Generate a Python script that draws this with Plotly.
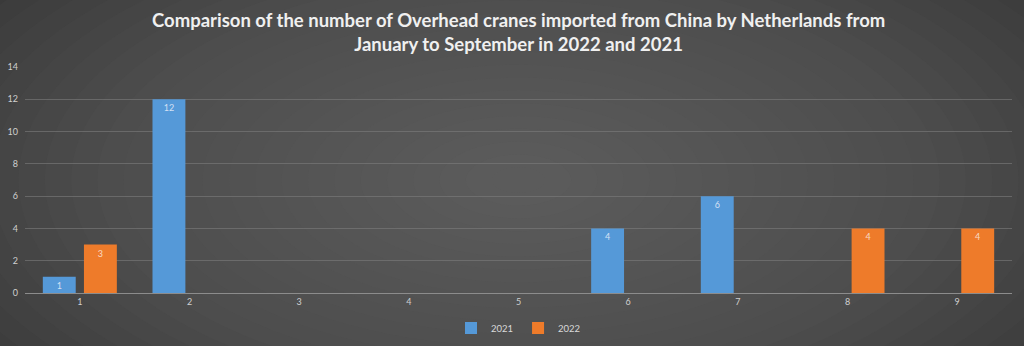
import plotly.graph_objects as go

months = ["1", "2", "3", "4", "5", "6", "7", "8", "9"]
imports_2021 = [1, 12, None, None, None, 4, 6, None, None]
imports_2022 = [3, None, None, None, None, None, None, 4, 4]
y_ticks = [0, 2, 4, 6, 8, 10, 12, 14]

title_text = ("Comparison of the number of Overhead cranes imported from China by Netherlands from"
              "<br>January to September in 2022 and 2021")

fig = go.Figure()
fig.add_trace(go.Bar(
    name="2021", x=months, y=imports_2021,
    marker=dict(color="#5599d8", line=dict(width=0)),
    text=[str(v) if v is not None else "" for v in imports_2021],
    textposition="inside", insidetextanchor="end", textangle=0,
    constraintext="none",
    textfont=dict(color="rgba(235,240,250,0.85)", size=9, family="Lato"),
))
fig.add_trace(go.Bar(
    name="2022", x=months, y=imports_2022,
    marker=dict(color="#ee7b2a", line=dict(width=0)),
    text=[str(v) if v is not None else "" for v in imports_2022],
    textposition="inside", insidetextanchor="end", textangle=0,
    constraintext="none",
    textfont=dict(color="rgba(250,235,225,0.85)", size=9, family="Lato"),
))

# radial background glow
shapes = []
n = 30
for i in range(n):
    f = i / n
    shapes.append(dict(
        type="circle", xref="paper", yref="paper", layer="below",
        x0=0.5 - 0.8 * (1 - f), x1=0.5 + 0.8 * (1 - f),
        y0=0.5 - 1.7 * (1 - f), y1=0.5 + 1.7 * (1 - f),
        fillcolor="rgba(108,108,108,0.065)", line=dict(width=0),
    ))

fig.update_layout(
    width=1024, height=346,
    paper_bgcolor="#262626", plot_bgcolor="rgba(0,0,0,0)",
    margin=dict(l=25, r=12, t=67, b=53, autoexpand=False),
    annotations=[dict(text=title_text, x=0.5, xref="paper", xanchor="center",
                      y=1.155, yref="paper", yanchor="middle", showarrow=False,
                      font=dict(family="Lato", size=18.5, color="#f0f0f0", weight="bold"))],
    barmode="group", bargap=0.25, bargroupgap=0.2,
    showlegend=True,
    legend=dict(orientation="h", x=0.5, xanchor="center", y=-0.155, yanchor="middle",
                font=dict(family="Lato", size=9.5, color="#d9d9d9"),
                itemwidth=30, traceorder="normal", bgcolor="rgba(0,0,0,0)"),
    shapes=shapes,
    font=dict(family="Lato"),
)
fig.update_xaxes(showgrid=False, showline=True, linecolor="#8c8c8c", linewidth=1,
                 tickfont=dict(size=9, color="#d0d0d0"), ticks="", zeroline=False,
                 fixedrange=True)
fig.update_yaxes(range=[0, 14], tickvals=y_ticks, showgrid=True,
                 gridcolor="rgba(125,125,125,0.6)", gridwidth=1,
                 zeroline=False, showline=False,
                 tickfont=dict(size=9, color="#d0d0d0"), ticks="", ticklabelstandoff=6)

fig.write_html("out.html")
